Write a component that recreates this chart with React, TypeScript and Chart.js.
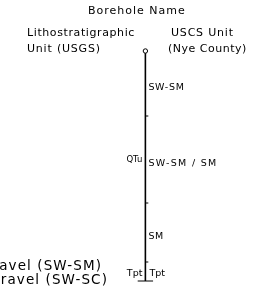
import React, { useEffect, useRef } from "react";
import { Chart, registerables } from "chart.js";

Chart.register(...registerables);

// ---- data (depth, arbitrary ft units, increasing downward) ----
const totalDepth = 230;
const uscsUnits = ["SW-SM", "SW-SM / SM", "SM"];
const uscsTop = [0, 65, 152];
const uscsBottom = [65, 152, 211];
const lithoUnits = ["QTu", "Tpt"];
const lithoTop = [0, 211];
const lithoBottom = [211, 230];
const contactDepths = [65, 152, 211];

const titleText = "Borehole Name";
const lithoHeader = ["Lithostratigraphic", "Unit (USGS)"];
const uscsHeader = ["USCS Unit", "(Nye County)"];
const legendLines = ["Gravel (SW-SM)", "Gravel (SW-SC)"];

// ---- layout ----
const W = 260;
const H = 288;
const BH_X = 146;
const FONT = "'DejaVu Sans', sans-serif";

const textPlugin = {
  id: "boreholeText",
  afterDraw(chart: any) {
    const ctx = chart.ctx as CanvasRenderingContext2D;
    const ys = chart.scales.y;
    const xs = chart.scales.x;
    const bx = xs.getPixelForValue(BH_X);
    ctx.save();
    ctx.fillStyle = "#000";
    ctx.textBaseline = "middle";
    const put = (t: string, x: number, y: number, size: number, spacing: number, align: CanvasTextAlign = "left") => {
      ctx.font = `${size}px ${FONT}`;
      (ctx as any).letterSpacing = `${spacing}px`;
      ctx.textAlign = align;
      ctx.fillText(t, x, y);
    };
    // headers
    put(titleText, 88, 11, 11, 1);
    put(lithoHeader[0], 27, 33, 11, 0.6);
    put(lithoHeader[1], 27, 49, 11, 0.8);
    put(uscsHeader[0], 171, 33, 11, 0.8);
    put(uscsHeader[1], 168, 49, 11, 0.5);
    // USCS units (right side)
    uscsUnits.forEach((u, i) => {
      const y = ys.getPixelForValue((uscsTop[i] + uscsBottom[i]) / 2) + 4;
      put(u, bx + 3, y, 9.5, u.includes("/") ? 1.3 : 0.7);
    });
    // Lithostratigraphic units (left side)
    lithoUnits.forEach((u, i) => {
      const y = ys.getPixelForValue((lithoTop[i] + lithoBottom[i]) / 2) + (u === "QTu" ? 3 : 2);
      put(u, bx - 3, y, u === "QTu" ? 8.5 : 9.5, 0, "right");
    });
    // Tpt repeated in the USCS column at the bottom
    {
      const y = ys.getPixelForValue((lithoTop[1] + lithoBottom[1]) / 2) + 2;
      put(lithoUnits[1], bx + 4, y, 9.5, 0, "left");
    }
    // legend fragment at bottom left (clipped by canvas edge)
    [102, 108].forEach((rx, i) => {
      const y = [266, 280][i];
      put(legendLines[i], rx, y, 13.5, 1.1, "right");
    });
    ctx.restore();
  },
};

export default function App() {
  const ref = useRef<HTMLCanvasElement | null>(null);
  useEffect(() => {
    if (!ref.current) return;
    const chart = new Chart(ref.current, {
      type: "line",
      data: {
        datasets: [
          {
            data: [
              { x: BH_X, y: 0 },
              { x: BH_X, y: totalDepth },
            ],
            borderColor: "#000",
            borderWidth: 1.6,
            pointRadius: [2.2, 0],
            pointBorderWidth: 1,
            pointBorderColor: "#000",
            pointBackgroundColor: "#fff",
            clip: false,
          } as any,
          {
            type: "scatter",
            data: contactDepths.map((d) => ({ x: BH_X + 1.5, y: d })),
            pointStyle: "line",
            pointRadius: 1.5,
            pointBorderWidth: 1,
            pointBorderColor: "#000",
            borderColor: "#000",
            showLine: false,
            clip: false,
          } as any,
          {
            data: [
              { x: BH_X - 8, y: totalDepth },
              { x: BH_X + 8, y: totalDepth },
            ],
            borderColor: "#000",
            borderWidth: 1,
            pointRadius: 0,
            clip: false,
          } as any,
        ],
      },
      options: {
        animation: false,
        responsive: false,
        events: [],
        layout: { padding: { top: 51, bottom: H - 281, left: 0, right: 0 } },
        plugins: { legend: { display: false }, tooltip: { enabled: false } },
        scales: {
          x: { type: "linear", min: 0, max: W, display: false },
          y: { type: "linear", min: 0, max: totalDepth, reverse: true, display: false },
        },
      },
      plugins: [textPlugin],
    });
    return () => chart.destroy();
  }, []);
  return (
    <div style={{ position: "fixed", left: 0, top: 0, width: W, height: H, background: "#fff" }}>
      <canvas ref={ref} width={W} height={H} style={{ width: W, height: H, display: "block" }} />
    </div>
  );
}
